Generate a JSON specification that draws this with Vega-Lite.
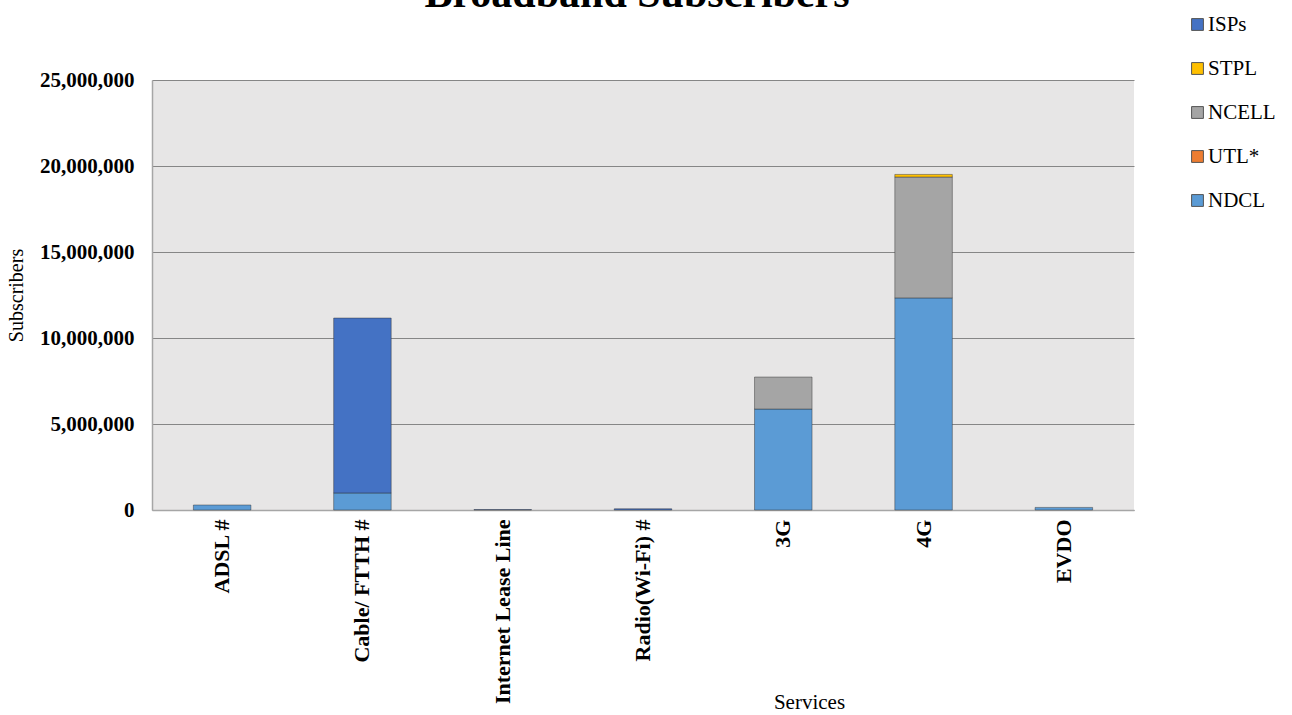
{
  "$schema": "https://vega.github.io/schema/vega-lite/v6.json",
  "autosize": {"type": "none"},
  "padding": {"left": 152, "top": 80, "right": 158, "bottom": 205},
  "width": 982,
  "height": 430,
  "background": "white",
  "config": {
    "font": "Liberation Serif",
    "view": {"stroke": null, "fill": "#E7E6E6"}
  },
  "title": {
    "text": "Broadband Subscribers",
    "font": "Liberation Serif",
    "fontSize": 42,
    "fontWeight": "bold",
    "color": "#000000",
    "anchor": "middle",
    "baseline": "alphabetic",
    "offset": -35,
    "dx": -6
  },
  "data": {
    "values": [
      {"Service": "ADSL #", "Operator": "NDCL", "Subscribers": 290000},
      {"Service": "Cable/ FTTH #", "Operator": "NDCL", "Subscribers": 990000},
      {"Service": "Cable/ FTTH #", "Operator": "ISPs", "Subscribers": 10170000},
      {"Service": "Internet Lease Line", "Operator": "ISPs", "Subscribers": 25000},
      {"Service": "Radio(Wi-Fi) #", "Operator": "ISPs", "Subscribers": 70000},
      {"Service": "3G", "Operator": "NDCL", "Subscribers": 5870000},
      {"Service": "3G", "Operator": "NCELL", "Subscribers": 1860000},
      {"Service": "4G", "Operator": "NDCL", "Subscribers": 12330000},
      {"Service": "4G", "Operator": "NCELL", "Subscribers": 7030000},
      {"Service": "4G", "Operator": "STPL", "Subscribers": 150000},
      {"Service": "EVDO", "Operator": "NDCL", "Subscribers": 150000}
    ]
  },
  "transform": [
    {"calculate": "datum.Operator === 'NDCL' ? 0 : datum.Operator === 'UTL*' ? 1 : datum.Operator === 'NCELL' ? 2 : datum.Operator === 'STPL' ? 3 : 4", "as": "stackOrder"}
  ],
  "mark": {"type": "bar", "stroke": "#303030", "strokeOpacity": 0.45, "strokeWidth": 1},
  "encoding": {
    "x": {
      "field": "Service",
      "type": "nominal",
      "sort": ["ADSL #", "Cable/ FTTH #", "Internet Lease Line", "Radio(Wi-Fi) #", "3G", "4G", "EVDO"],
      "scale": {"paddingInner": 0.59, "paddingOuter": 0.295},
      "axis": {
        "title": "Services",
        "titleFont": "Liberation Serif",
        "titleFontSize": 21,
        "titleFontWeight": "normal",
        "titleColor": "#000000",
        "titleX": 657,
        "titleY": 198,
        "titleAlign": "center",
        "titleBaseline": "alphabetic",
        "labelAngle": -90,
        "labelFont": "Liberation Serif",
        "labelFontSize": 22,
        "labelFontWeight": "bold",
        "labelColor": "#000000",
        "labelPadding": 9,
        "labelLimit": 400,
        "ticks": false,
        "domainColor": "#A6A6A6",
        "domainWidth": 1.5,
        "grid": false
      }
    },
    "y": {
      "field": "Subscribers",
      "type": "quantitative",
      "stack": "zero",
      "scale": {"domain": [0, 25000000], "nice": false},
      "axis": {
        "title": "Subscribers",
        "titleFont": "Liberation Serif",
        "titleFontSize": 20,
        "titleFontWeight": "normal",
        "titleColor": "#000000",
        "titlePadding": 13,
        "values": [0, 5000000, 10000000, 15000000, 20000000, 25000000],
        "format": ",d",
        "labelFont": "Liberation Serif",
        "labelFontSize": 21,
        "labelFontWeight": "bold",
        "labelColor": "#000000",
        "labelPadding": 18,
        "ticks": false,
        "domainColor": "#A6A6A6",
        "domainWidth": 1.5,
        "grid": true,
        "gridColor": "#868686",
        "gridWidth": 1.2
      }
    },
    "order": {"field": "stackOrder", "type": "quantitative", "sort": "ascending"},
    "color": {
      "field": "Operator",
      "type": "nominal",
      "sort": ["ISPs", "STPL", "NCELL", "UTL*", "NDCL"],
      "scale": {
        "domain": ["ISPs", "STPL", "NCELL", "UTL*", "NDCL"],
        "range": ["#4472C4", "#FFC000", "#A5A5A5", "#ED7D31", "#5B9BD5"]
      },
      "legend": {
        "title": null,
        "orient": "none",
        "legendX": 1035,
        "legendY": -66,
        "symbolType": "square",
        "symbolSize": 140,
        "symbolStrokeWidth": 1,
        "symbolStrokeColor": "#555555",
        "labelFont": "Liberation Serif",
        "labelFontSize": 21,
        "labelColor": "#000000",
        "labelOffset": 0,
        "rowPadding": 22,
        "symbolOpacity": 1
      }
    }
  }
}
